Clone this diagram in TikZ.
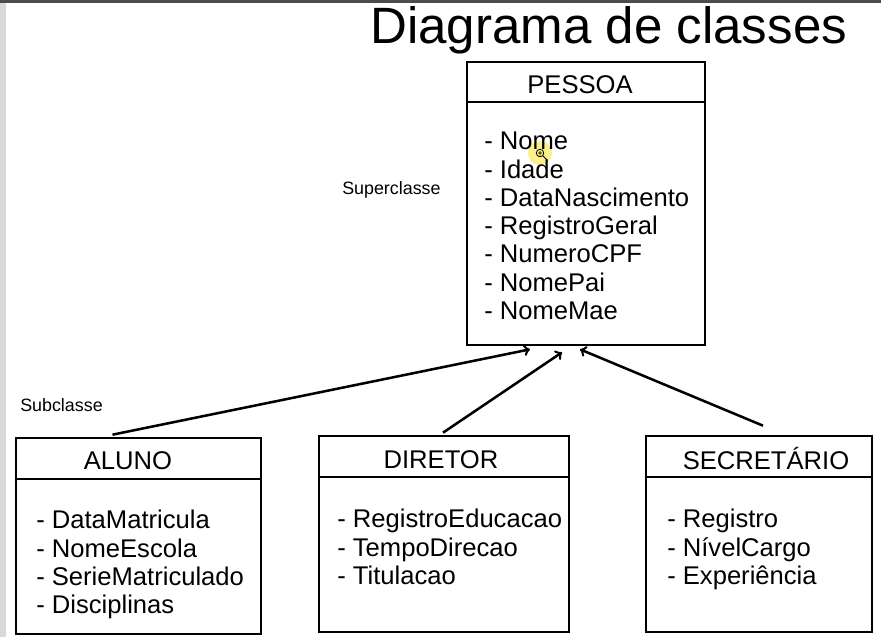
\documentclass[tikz,border=0pt]{standalone}
\usepackage{fontspec}
\setmainfont{Liberation Sans}

\begin{document}
\begin{tikzpicture}[x=0.75pt,y=-0.75pt,
    classbox/.style={draw,line width=2pt,inner sep=0pt},
    sepline/.style={line width=2pt},
    header/.style={anchor=base,inner sep=0pt,
        font={\fontsize{19.2}{21.2}\selectfont}},
    attrs/.style={anchor=north west,align=left,inner sep=0pt,
        font={\fontsize{19.2}{21.2}\selectfont}},
    note/.style={anchor=base west,inner sep=0pt,
        font={\fontsize{13.4}{15}\selectfont}},
    inherit/.style={->,line width=1.9pt},
    ]
    % Page and screen borders
    \useasboundingbox (0,0) rectangle (881,637);
    \fill[white] (0,0) rectangle (881,637);
    \fill[black!15] (0,0) rectangle (6,637);
    \fill[black!70] (0,0) rectangle (881,3);
    % Title
    \node[anchor=base west,inner sep=0pt,font={\fontsize{38.3}{44}\selectfont}]
         (title) at (370,43) {Diagrama de classes};
    % Superclass
    \node[classbox,minimum width=178.5pt,minimum height=212.25pt]
         (pessoa) at (586,203.5) {};
    \draw[sepline] (pessoa.west |- 0,102) -- (pessoa.east |- 0,102);
    \node[header] (pessoaT) at (580,93) {PESSOA};
    \fill[yellow!80!orange,opacity=.45] (540,153) circle (9pt);
    \node[attrs] (pessoaA) at (484,132) {- Nome\\- Idade\\- DataNascimento\\
        - RegistroGeral\\- NumeroCPF\\- NomePai\\- NomeMae};
    % Cursor
    \draw[line width=.6pt] (540,153) circle (2.8pt)
         (543,156) -- (547,160)
         (538,153) -- (542,153) (540,151) -- (540,155);
    % Subclasses
    \node[classbox,minimum width=183.75pt,minimum height=147pt]
         (aluno) at (138.5,536) {};
    \draw[sepline] (aluno.west |- 0,479) -- (aluno.east |- 0,479);
    \node[header] (alunoT) at (128,469) {ALUNO};
    \node[attrs] (alunoA) at (36,510) {- DataMatricula\\- NomeEscola\\
        - SerieMatriculado\\- Disciplinas};
    \node[classbox,minimum width=187.5pt,minimum height=147pt]
         (diretor) at (444,534) {};
    \draw[sepline] (diretor.west |- 0,477) -- (diretor.east |- 0,477);
    \node[header] (diretorT) at (441,468) {DIRETOR};
    \node[attrs] (diretorA) at (337,509) {- RegistroEducacao\\- TempoDirecao\\
        - Titulacao};
    \node[classbox,minimum width=169.5pt,minimum height=147pt]
         (secretario) at (759,534) {};
    \draw[sepline] (secretario.west |- 0,477) -- (secretario.east |- 0,477);
    \node[header] (secretarioT) at (766,469) {SECRETÁRIO};
    \node[attrs] (secretarioA) at (667,509) {- Registro\\- NívelCargo\\
        - Experiência};
    % Inheritance arrows
    \draw[inherit] ([shift={(-26,-2)}]aluno.north)
         -- ([shift={(-56,3)}]pessoa.south);
    \draw[inherit] ([shift={(-1,-2)}]diretor.north)
         -- ([shift={(-24,6)}]pessoa.south);
    \draw[inherit] ([shift={(4,-9)}]secretario.north)
         -- ([shift={(-6,3)}]pessoa.south);
    % Notes
    \node[note] (superNote) at (342,194) {Superclasse};
    \node[note] (subNote) at (20,411) {Subclasse};
\end{tikzpicture}
\end{document}
